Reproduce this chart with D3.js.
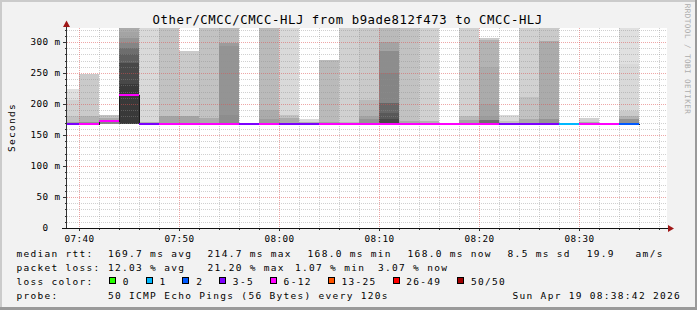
<!DOCTYPE html>
<html>
<head>
<meta charset="utf-8">
<script src="https://cdn.jsdelivr.net/npm/d3@7"></script>
<style>
  html, body { margin: 0; padding: 0; background: #f2f2f2; }
  svg { display: block; }
  text { font-family: 'DejaVu Sans Mono', monospace; fill: #000; }
</style>
</head>
<body>
<svg id="chart" width="697" height="310"></svg>
<script>
// ---- data ----
// start of each 2 minute step
const slotTimes = ['07:38', '07:40', '07:42', '07:44', '07:46', '07:48', '07:50', '07:52', '07:54', '07:56',
  '07:58', '08:00', '08:02', '08:04', '08:06', '08:08', '08:10', '08:12', '08:14', '08:16',
  '08:18', '08:20', '08:22', '08:24', '08:26', '08:28', '08:30', '08:32', '08:34'];

// median rtt (ms)
const medianRtt = [168.0, 168.0, 172.5, 214.7, 168.0, 168.0, 168.0, 168.0, 168.0, 168.0,
  168.0, 168.0, 168.0, 168.0, 168.0, 168.0, 168.0, 168.0, 168.0, 168.0,
  168.0, 168.0, 168.0, 168.0, 168.0, 168.0, 168.0, 168.0, 168.0];

// lost pings out of 50
const lossPings = [4, 8, 7, 10, 4, 7, 8, 7, 9, 4, 7, 4, 4, 8, 6, 7, 9, 7, 6, 7, 6, 8, 4, 4, 5, 1, 7, 6, 2];

// fastest ping (ms)
const minRtt = [167.8, 167.8, 167.9, 167.8, 167.8, 167.8, 167.8, 167.8, 167.8, 167.8,
  167.8, 167.8, 167.8, 167.8, 167.8, 167.8, 167.8, 167.8, 167.8, 167.8,
  167.8, 167.8, 167.8, 167.8, 167.8, 167.8, 167.8, 167.8, 167.8];

// smoke: [upper rtt (ms), number of pings at or above it] per step
const smokeBands = [
  [[224, 2], [206, 4], [180, 6], [171, 10]],
  [[249, 5], [180, 8], [171, 12]],
  [[182, 6], [178, 9], [171, 14]],
  [[330, 9], [316, 10], [306, 12], [298, 14], [291, 17], [280, 19], [266, 22], [232, 24]],
  [[330, 3], [171, 8]],
  [[330, 6], [180, 10]],
  [[286, 5], [180, 10]],
  [[330, 6], [178, 9]],
  [[330, 7], [298, 11], [294, 12], [182, 13]],
  [[169, 6]],
  [[330, 7], [191, 9], [176, 11]],
  [[330, 3], [182, 6], [178, 9]],
  [[175, 3], [171, 8]],
  [[271, 7], [171, 10]],
  [[330, 4], [171, 7]],
  [[330, 5], [207, 7], [190, 8], [180, 10], [175, 12]],
  [[330, 7], [300, 10], [285, 13], [250, 14], [202, 18], [185, 20], [175, 22]],
  [[330, 6], [172, 9]],
  [[330, 4], [172, 8]],
  [[169, 6]],
  [[330, 4], [180, 7], [174, 10]],
  [[307, 5], [303, 8], [260, 9], [200, 10], [180, 11], [174, 17]],
  [[182, 3], [172, 6]],
  [[330, 4], [212, 6], [176, 9]],
  [[330, 5], [301, 9], [175, 12]],
  [[169, 3]],
  [[178, 4], [171, 9]],
  [[169, 6]],
  [[330, 2], [265, 3], [188, 5], [181, 8], [175, 12]]
];

const yTicks = [0, 50, 100, 150, 200, 250, 300];
const xTicks = ['07:40', '07:50', '08:00', '08:10', '08:20', '08:30'];
const viewStart = '07:38:48';
const viewEnd = '08:38:48';
const yMax = 322.58;

const lossLabels = ['0', '1', '2', '3-5', '6-12', '13-25', '26-49', '50/50'];
const lossLimits = [1, 2, 3, 6, 13, 26, 50];
const lossColors = ['#26ff00', '#00b8ff', '#0059ff', '#7e00ff', '#ff00ff', '#ff5500', '#ff0000', '#a00000'];

const titleText = 'Other/CMCC/CMCC-HLJ from b9ade812f473 to CMCC-HLJ';
const rttStats = ['169.7 ms avg', '214.7 ms max', '168.0 ms min', '168.0 ms now', '8.5 ms sd', '19.9', 'am/s'];
const lossStats = ['12.03 % avg', '21.20 % max', '1.07 % min', '3.07 % now'];
const probeText = '50 ICMP Echo Pings (56 Bytes) every 120s';
const stampText = 'Sun Apr 19 08:38:42 2026';

// ---- chart ----
function drawSmokeping() {
  const W = 697, H = 310;
  const left = 67, right = 667, top = 28, bottom = 228;
  const svg = d3.select('#chart');

  const parseHM = d3.timeParse('%H:%M');
  const parseHMS = d3.timeParse('%H:%M:%S');

  const x = d3.scaleTime()
    .domain([parseHMS(viewStart), parseHMS(viewEnd)])
    .range([left, right])
    .interpolate(d3.interpolateRound);

  const y = d3.scaleLinear()
    .domain([0, yMax])
    .range([bottom, top])
    .interpolate(d3.interpolateRound);

  const lossColor = d3.scaleThreshold().domain(lossLimits).range(lossColors);

  // smokeping shading: more pings above a level -> darker
  const smokeGrey = rank => {
    const c = 50 + Math.floor(190 / 25 * (25 - Math.min(rank, 25)));
    return d3.rgb(c, c, c).formatHex();
  };

  const slots = slotTimes.map((t, i) => ({
    start: parseHM(t),
    end: d3.timeMinute.offset(parseHM(t), 2),
    median: medianRtt[i],
    loss: lossPings[i],
    min: minRtt[i],
    bands: smokeBands[i]
  }));

  // background and 3d frame
  svg.append('rect').attr('width', W).attr('height', H).attr('fill', '#f2f2f2');
  svg.append('rect').attr('width', W).attr('height', 2).attr('fill', '#cbcbcb');
  svg.append('rect').attr('width', 2).attr('height', H).attr('fill', '#cbcbcb');
  svg.append('rect').attr('x', W - 2).attr('width', 2).attr('height', H).attr('fill', '#9a9a9a');
  svg.append('rect').attr('y', H - 3).attr('width', W).attr('height', 3).attr('fill', '#9a9a9a');

  svg.append('defs').append('clipPath').attr('id', 'plotClip')
    .append('rect').attr('x', left).attr('y', top).attr('width', right - left).attr('height', bottom - top);

  svg.append('rect')
    .attr('x', left).attr('y', top)
    .attr('width', right - left).attr('height', bottom - top)
    .attr('fill', '#fff');

  // smoke
  const smoke = svg.append('g').attr('clip-path', 'url(#plotClip)').attr('shape-rendering', 'crispEdges');
  slots.forEach(s => {
    smoke.selectAll(null)
      .data(s.bands)
      .enter().append('rect')
      .attr('x', x(s.start))
      .attr('width', x(s.end) - x(s.start))
      .attr('y', d => y(Math.min(d[0], yMax)))
      .attr('height', d => y(s.min) - y(Math.min(d[0], yMax)))
      .attr('fill', d => smokeGrey(d[1]));
  });

  // grid (drawn over the smoke like rrdtool)
  const grid = svg.append('g').attr('shape-rendering', 'crispEdges');
  const minorY = d3.range(10, yMax, 10).filter(v => v % 50 !== 0);
  const majorY = yTicks.filter(v => v > 0);
  const minorX = x.ticks(d3.timeMinute.every(2)).filter(d => d.getMinutes() % 10 !== 0);
  const majorX = xTicks.map(parseHM);

  const minorStyle = 'rgba(143,143,143,0.42)';
  const majorStyle = 'rgba(222,80,80,0.5)';

  grid.selectAll('.hminor').data(minorY).enter().append('line')
    .attr('x1', left).attr('x2', right)
    .attr('y1', d => y(d) + 0.5).attr('y2', d => y(d) + 0.5)
    .attr('stroke', minorStyle).attr('stroke-dasharray', '1,1');
  grid.selectAll('.vminor').data(minorX).enter().append('line')
    .attr('x1', d => x(d) + 0.5).attr('x2', d => x(d) + 0.5)
    .attr('y1', top).attr('y2', bottom)
    .attr('stroke', minorStyle).attr('stroke-dasharray', '1,1');
  grid.selectAll('.hmajor').data(majorY).enter().append('line')
    .attr('x1', left).attr('x2', right)
    .attr('y1', d => y(d) + 0.5).attr('y2', d => y(d) + 0.5)
    .attr('stroke', majorStyle).attr('stroke-dasharray', '1,1');
  grid.selectAll('.vmajor').data(majorX).enter().append('line')
    .attr('x1', d => x(d) + 0.5).attr('x2', d => x(d) + 0.5)
    .attr('y1', top).attr('y2', bottom)
    .attr('stroke', majorStyle).attr('stroke-dasharray', '1,1');

  // median: thin dark step line, then loss coloured segments
  const lines = svg.append('g').attr('clip-path', 'url(#plotClip)');
  const stepPts = slots.map(s => [x(s.start), y(s.median)]);
  stepPts.push([x(slots[slots.length - 1].end), y(slots[slots.length - 1].median)]);
  lines.append('path')
    .attr('d', d3.line().curve(d3.curveStepAfter)(stepPts.map(p => [p[0] + 0.5, p[1] + 0.5])))
    .attr('fill', 'none')
    .attr('stroke', '#1a1a1a')
    .attr('stroke-width', 1)
    .attr('shape-rendering', 'crispEdges');

  lines.selectAll('.median')
    .data(slots)
    .enter().append('line')
    .attr('x1', d => x(d.start)).attr('x2', d => x(d.end))
    .attr('y1', d => y(d.median)).attr('y2', d => y(d.median))
    .attr('stroke', d => lossColor(d.loss))
    .attr('stroke-width', 2)
    .attr('shape-rendering', 'crispEdges');

  // axes: minor ticks, then major ticks with labels
  const axisFont = g => g.attr('font-family', "'DejaVu Sans Mono', monospace")
    .attr('font-size', '9.3px')
    .call(a => a.select('.domain').remove())
    .call(a => a.selectAll('line').attr('stroke', '#333').attr('shape-rendering', 'crispEdges'))
    .call(a => a.selectAll('text').attr('fill', '#000').style('letter-spacing', '0.4px').style('white-space', 'pre'));

  svg.append('g')
    .attr('transform', `translate(${left},0)`)
    .call(d3.axisLeft(y).tickValues(minorY).tickSize(2).tickFormat(''))
    .call(axisFont);
  svg.append('g')
    .attr('transform', `translate(${left},0)`)
    .call(d3.axisLeft(y).tickValues(yTicks).tickSize(4).tickPadding(2.6)
      .tickFormat(d => d === 0 ? '0  ' : `${d} m`))
    .call(axisFont);

  svg.append('g')
    .attr('transform', `translate(0,${bottom})`)
    .call(d3.axisBottom(x).tickValues(minorX).tickSize(2).tickFormat(''))
    .call(axisFont);
  svg.append('g')
    .attr('transform', `translate(0,${bottom})`)
    .call(d3.axisBottom(x).tickValues(majorX).tickSize(3).tickPadding(4)
      .tickFormat(d3.timeFormat('%H:%M')))
    .call(axisFont);

  // axis lines with arrow heads
  svg.append('line')
    .attr('x1', left - 0.5).attr('x2', left - 0.5).attr('y1', bottom + 1).attr('y2', top - 2)
    .attr('stroke', '#333').attr('shape-rendering', 'crispEdges');
  svg.append('line')
    .attr('x1', left - 5).attr('x2', right + 1).attr('y1', bottom + 0.5).attr('y2', bottom + 0.5)
    .attr('stroke', '#111').attr('shape-rendering', 'crispEdges');
  svg.append('path')
    .attr('d', `M${left - 0.5},${top - 7.5} L${left + 3},${top - 1} L${left - 4},${top - 1} Z`)
    .attr('fill', '#a01818');
  svg.append('path')
    .attr('d', `M${right + 7},${bottom + 0.5} L${right + 1},${bottom - 3} L${right + 1},${bottom + 4} Z`)
    .attr('fill', '#a01818');

  // titles
  svg.append('text')
    .attr('x', 347.7).attr('y', 24)
    .attr('text-anchor', 'middle')
    .style('font-size', '12.3px').style('letter-spacing', '0.56px')
    .text(titleText);

  svg.append('text')
    .attr('transform', 'translate(15,127.5) rotate(-90)')
    .attr('text-anchor', 'middle')
    .style('font-size', '9.5px').style('letter-spacing', '1.3px')
    .text('Seconds');

  svg.append('text')
    .attr('transform', 'translate(685,59) rotate(90)')
    .attr('text-anchor', 'middle')
    .style('font-size', '7.6px').style('letter-spacing', '0.45px')
    .style('fill', '#adadad')
    .text('RRDTOOL / TOBI OETIKER');

  // legend block
  const legend = svg.append('g')
    .style('font-size', '9.5px').style('letter-spacing', '1.3px').style('white-space', 'pre');

  const addText = (tx, ty, str) => legend.append('text').attr('x', tx).attr('y', ty).text(str);

  addText(16.4, 256.5, 'median rtt:');
  [108, 207.6, 307.6, 407.6, 507.6, 586.7, 635.6].forEach((tx, i) => addText(tx, 256.5, rttStats[i]));

  addText(16.4, 270.5, 'packet loss:');
  [108, 207.6, 295, 378].forEach((tx, i) => addText(tx, 270.5, lossStats[i]));

  addText(16.4, 284.5, 'loss color:');
  let bx = 109;
  lossLabels.forEach((lab, i) => {
    legend.append('rect')
      .attr('x', bx + 0.5).attr('y', 277.5)
      .attr('width', 6).attr('height', 6)
      .attr('fill', lossColors[i])
      .attr('stroke', '#000').attr('stroke-width', 1)
      .attr('shape-rendering', 'crispEdges');
    addText(bx + 13.7, 284.5, lab);
    bx += 13.7 + lab.length * 7.02 + 16;
  });

  addText(16.4, 298.5, 'probe:');
  addText(108, 298.5, probeText);
  legend.append('text')
    .attr('x', 681).attr('y', 298.5)
    .attr('text-anchor', 'end')
    .text(stampText);
}

drawSmokeping();
</script>
</body>
</html>
